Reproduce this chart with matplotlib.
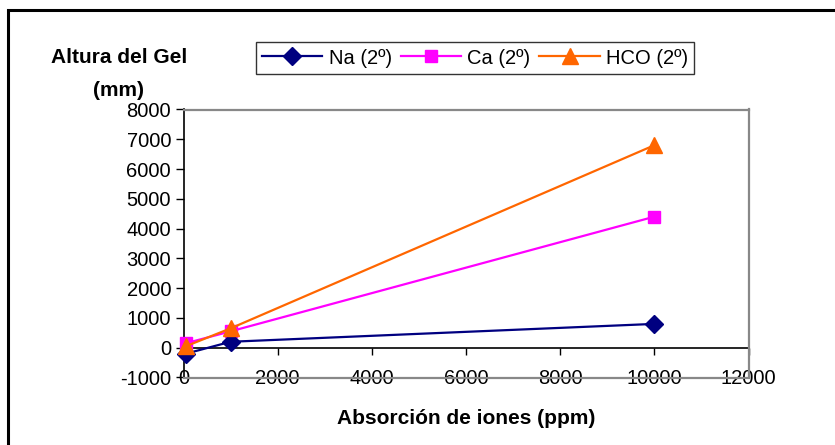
import matplotlib
matplotlib.use("Agg")
import matplotlib.pyplot as plt
from matplotlib.patches import Rectangle

plt.rcParams["font.family"] = ["Liberation Sans", "DejaVu Sans"]
plt.rcParams["axes.unicode_minus"] = False

# Ion absorption (ppm) vs gel height (mm)
absorcion = [50, 1000, 10000]
na_2 = [-200, 200, 800]
ca_2 = [150, 550, 4400]
hco_2 = [50, 650, 6800]

series_labels = ["Na (2º)", "Ca (2º)", "HCO (2º)"]
x_ticks = [0, 2000, 4000, 6000, 8000, 10000, 12000]
y_ticks = [-1000, 0, 1000, 2000, 3000, 4000, 5000, 6000, 7000, 8000]

W, H = 835, 445
fig = plt.figure(figsize=(W / 100, H / 100), dpi=100)

# outer chart frame
fig.patches.append(Rectangle((8 / W, 0 - 0.1), 2, 1 - 10.5 / H + 0.1,
                             transform=fig.transFigure, fill=False,
                             edgecolor="black", linewidth=2.2))

ax = fig.add_axes([183.5 / W, 1 - 377.5 / H, (748.5 - 183.5) / W, (377.5 - 109.5) / H])

ax.plot(absorcion, na_2, color="#000080", marker="D", markersize=9, linewidth=1.6,
        label=series_labels[0], clip_on=False, zorder=5)
ax.plot(absorcion, ca_2, color="#FF00FF", marker="s", markersize=8.5, linewidth=1.6,
        label=series_labels[1], clip_on=False, zorder=4)
ax.plot(absorcion, hco_2, color="#FF6600", marker="^", markersize=11.5, linewidth=1.6,
        label=series_labels[2], clip_on=False, zorder=6)

ax.set_xlim(0, 12000)
ax.set_ylim(-1000, 8000)
ax.set_xticks(x_ticks)
ax.set_yticks(y_ticks)

for side in ("top", "right", "bottom"):
    ax.spines[side].set_color("#888888")
    ax.spines[side].set_linewidth(1.6)
ax.spines["left"].set_color("black")
ax.spines["left"].set_linewidth(1.2)

ax.tick_params(axis="y", direction="out", length=6, width=1, pad=3, labelsize=14.5)
ax.tick_params(axis="x", length=0, pad=-6, labelsize=14.5)

# horizontal axis line crossing at y = 0 with its tick marks
sec = ax.secondary_xaxis(0, transform=ax.transData)
sec.set_xticks(x_ticks)
sec.tick_params(axis="x", direction="out", length=5, width=1, labelbottom=False)
sec.spines["bottom"].set_color("black")
sec.spines["bottom"].set_linewidth(1.2)

fig.text(119 / W, 1 - 74 / H, "Altura del Gel\n(mm)", ha="center", va="center",
         fontsize=15, fontweight="bold", linespacing=1.9)
fig.text(466 / W, 1 - 419 / H, "Absorción de iones (ppm)", ha="center", va="center",
         fontsize=15, fontweight="bold")

leg = fig.legend(loc="center", bbox_to_anchor=(475 / W, 1 - 58 / H), ncol=3,
                 fontsize=14.5, frameon=True, fancybox=False, edgecolor="black",
                 borderpad=0.3, handlelength=3.0, handletextpad=0.3, columnspacing=0.45)
leg.get_frame().set_linewidth(1.0)

fig.savefig("out.png", dpi=100)
